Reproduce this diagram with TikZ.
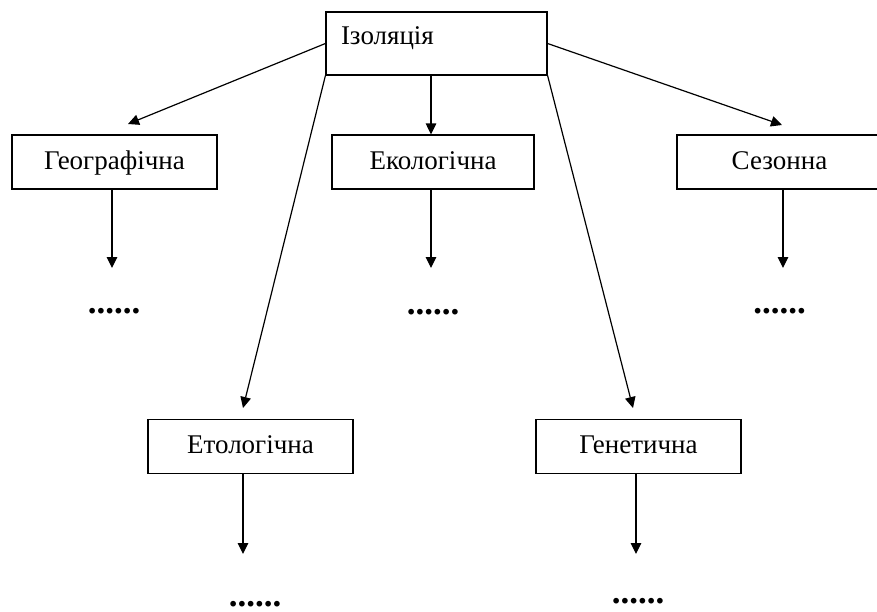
\documentclass[tikz,border=0pt]{standalone}
\usepackage{fontspec}
\setmainfont{Liberation Serif}
\usetikzlibrary{arrows.meta}
\begin{document}
\begin{tikzpicture}[x=1pt,y=-1pt,
  ln/.style={line width=1.2pt},
  box/.style={draw, ln, rectangle, minimum width=205pt, inner xsep=0pt, inner ysep=0pt,
    text height=34pt, text depth=20pt, font=\fontsize{27}{32}\selectfont},
  dotrow/.style={anchor=base, inner sep=0pt, text depth=0pt, font=\fontsize{35}{40}\selectfont\bfseries},
  arr/.style={ln, -{Triangle[length=11pt,width=10.5pt]}}]
\useasboundingbox (0,0) rectangle (877,611);

% top box
\node[draw, ln, text width=191pt, align=left, inner xsep=15pt, inner ysep=0pt,
  text height=32pt, text depth=31pt, font=\fontsize{27}{32}\selectfont] (iz) at (436.5,43.5) {Ізоляція};

% second level
\node[box] (geo) at (114.5,162) {Географічна};
\node[box, minimum width=202pt] (eco) at (433,162) {Екологічна};
\node[box] (ses) at (779.5,162) {Сезонна};
\node[box] (eto) at (250.5,446.5) {Етологічна};
\node[box] (gen) at (638.5,446.5) {Генетична};

% dots
\node[dotrow] (dgeo) at (114,313) {......};
\node[dotrow] (deco) at (433,314) {......};
\node[dotrow] (dses) at (779.5,313) {......};
\node[dotrow] (deto) at (255,606) {......};
\node[dotrow] (dgen) at (638,603) {......};

% arrow end points
\coordinate (tgeo) at (128,124);
\coordinate (tses) at (782,125);
\coordinate (teto) at (243,408);
\coordinate (tgen) at (633,408);
\coordinate (xeco) at (431,0);
\coordinate (bgeo) at (112,268);
\coordinate (beco) at (431,268);
\coordinate (bses) at (783,268);
\coordinate (beto) at (243,554);
\coordinate (bgen) at (636,554);

% connectors from top box
\draw[arr] (iz.west) -- (tgeo);
\draw[arr] (iz.east) -- (tses);
\draw[arr] (iz.south west) -- (teto);
\draw[arr] (iz.south east) -- (tgen);
\draw[arr] (iz.south -| xeco) -- (eco.north -| xeco);

% down arrows to dots
\draw[arr] (geo.south -| bgeo) -- (bgeo);
\draw[arr] (eco.south -| beco) -- (beco);
\draw[arr] (ses.south -| bses) -- (bses);
\draw[arr] (eto.south -| beto) -- (beto);
\draw[arr] (gen.south -| bgen) -- (bgen);
\end{tikzpicture}
\end{document}
